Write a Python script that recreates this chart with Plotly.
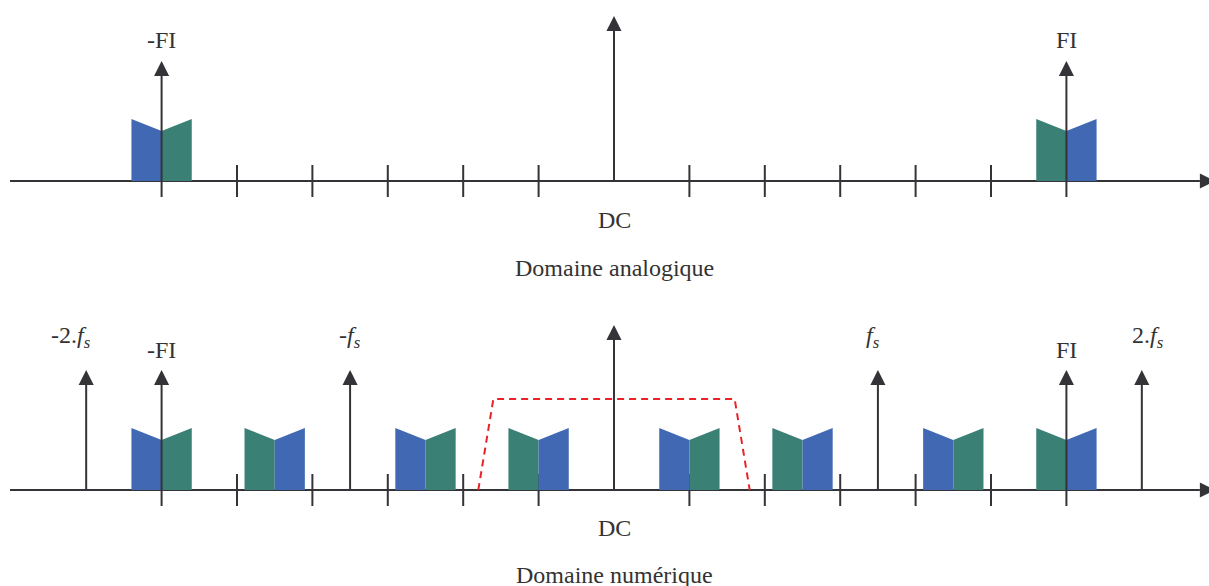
import plotly.graph_objects as go

# ---------------- data (x in tick spacings from DC, y in amplitude units) ----------------
TICKS = [-5, -4, -3, -2, -1, 1, 2, 3, 4, 5]
FI = 6.0
FS = 3.5

# analog domain spectra: centre, left-half colour, right-half colour
top_centres = [-6.0, 6.0]
top_left = ["blue", "green"]
top_right = ["green", "blue"]

# digital domain spectra (images)
bot_centres = [-6.0, -4.5, -2.5, -1.0, 1.0, 2.5, 4.5, 6.0]
bot_left = ["blue", "green", "blue", "green", "blue", "green", "blue", "green"]
bot_right = ["green", "blue", "green", "blue", "green", "blue", "green", "blue"]

BLOCK_OUTER = 0.62
BLOCK_INNER = 0.50

# vertical arrows (position, height)
top_arrows_x = [-6.0, 0.0, 6.0]
top_arrows_h = [1.20, 1.65, 1.20]
bot_arrows_x = [-7.0, -6.0, -3.5, 0.0, 3.5, 6.0, 7.0]
bot_arrows_h = [1.20, 1.20, 1.20, 1.65, 1.20, 1.20, 1.20]

# anti-aliasing / decimation filter mask
filt_x = [-1.8, -1.6, 1.6, 1.8]
filt_y = [0.0, 0.91, 0.91, 0.0]

# ---------------- style ----------------
COL = {"blue": "#4168B3", "green": "#3A8075"}
AX = "#333338"
TXT = "#333333"
RED = "#E8242A"
FONT = "Liberation Serif"

TOP = 3.09       # baseline of the analog panel
BOT = 0.0        # baseline of the digital panel
HW = 0.4         # block half width
AH_W = 0.10      # arrow head half width (x units)
AH_H = 0.15      # arrow head height (y units)
TICK = 0.16
X0, X1 = -8.143, 7.891
Y0, Y1 = -0.96, 4.90
AXIS_START, AXIS_HEAD = -8.01, 7.77

fig = go.Figure()


def poly(xs, ys, color):
    fig.add_trace(go.Scatter(x=xs + [xs[0]], y=ys + [ys[0]], mode="lines", fill="toself",
                             fillcolor=color, line=dict(width=0, color=color),
                             hoverinfo="skip", showlegend=False))


def line(xs, ys, color=AX, width=2, dash=None):
    fig.add_trace(go.Scatter(x=xs, y=ys, mode="lines",
                             line=dict(color=color, width=width, dash=dash),
                             hoverinfo="skip", showlegend=False))


def panel(base, centres, lefts, rights, arrows_x, arrows_h, with_filter):
    # horizontal axis
    line([AXIS_START, AXIS_HEAD], [base, base])
    poly([AXIS_HEAD, AXIS_HEAD, AXIS_HEAD + 0.2], [base - 0.075, base + 0.075, base], AX)
    # ticks
    for t in TICKS:
        line([t, t], [base - TICK, base + TICK])
    # spectra blocks
    for c, l, r in zip(centres, lefts, rights):
        poly([c - HW, c - HW, c, c], [base, base + BLOCK_OUTER, base + BLOCK_INNER, base], COL[l])
        poly([c, c, c + HW, c + HW], [base, base + BLOCK_INNER, base + BLOCK_OUTER, base], COL[r])
    if with_filter:
        line(filt_x, [base + v for v in filt_y], color=RED, width=2, dash="7px,5px")
    # vertical arrows
    for x, h in zip(arrows_x, arrows_h):
        y_low = base - TICK if abs(x) == FI else base
        line([x, x], [y_low, base + h - AH_H])
        poly([x - AH_W, x + AH_W, x], [base + h - AH_H, base + h - AH_H, base + h], AX)


panel(TOP, top_centres, top_left, top_right, top_arrows_x, top_arrows_h, False)
panel(BOT, bot_centres, bot_left, bot_right, bot_arrows_x, bot_arrows_h, True)


def label(x, y, text, size=24):
    fig.add_annotation(x=x, y=y, text=text, showarrow=False, xanchor="center", yanchor="middle",
                       font=dict(family=FONT, size=size, color=TXT))


fs_txt = "<i>f<sub>s</sub></i>"
# analog panel labels
label(-FI, TOP + 1.41, "-FI")
label(FI, TOP + 1.41, "FI")
label(0, TOP - 0.39, "DC")
label(0, TOP - 0.87, "Domaine analogique")
# digital panel labels
label(-2 * FS - 0.2, BOT + 1.53, "-2." + fs_txt)
label(-FS, BOT + 1.53, "-" + fs_txt)
label(FS - 0.06, BOT + 1.53, fs_txt)
label(2 * FS + 0.08, BOT + 1.53, "2." + fs_txt)
label(-FI, BOT + 1.40, "-FI")
label(FI, BOT + 1.40, "FI")
label(0, BOT - 0.38, "DC")
label(0, BOT - 0.85, "Domaine numérique")

fig.update_layout(
    width=1209, height=586,
    margin=dict(l=0, r=0, t=0, b=0),
    paper_bgcolor="white", plot_bgcolor="white",
    xaxis=dict(range=[X0, X1], visible=False, fixedrange=True),
    yaxis=dict(range=[Y0, Y1], visible=False, fixedrange=True),
    showlegend=False,
)

# remove the default page margin so the figure fills the window exactly
fig.write_html("out.html",
               config={"displayModeBar": False, "staticPlot": True},
               post_script="document.body.style.margin='0';document.body.style.overflow='hidden';")
